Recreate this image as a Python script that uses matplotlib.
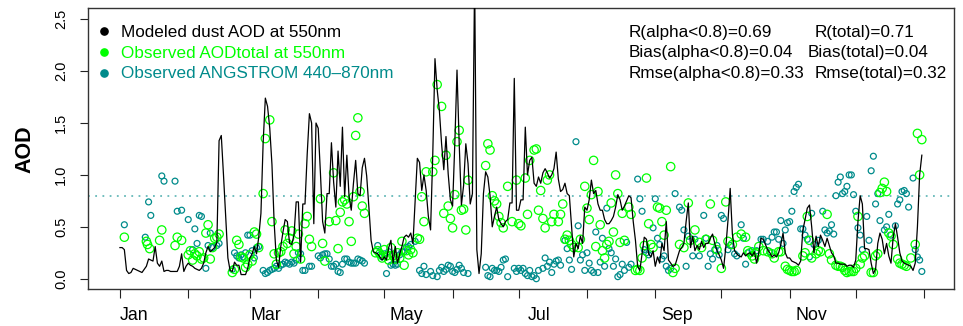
import numpy as np
import matplotlib
matplotlib.use("Agg")
import matplotlib.pyplot as plt

plt.rcParams['font.family'] = ['Liberation Sans', 'DejaVu Sans']

# ---------------- data ----------------
# Modeled dust AOD (daily), by month
jan = [0.30, 0.30, 0.28, 0.08, 0.05, 0.06, 0.10, 0.09, 0.08, 0.07, 0.06, 0.09, 0.12, 0.19, 0.18, 0.17,
       0.31, 0.15, 0.12, 0.17, 0.07, 0.08, 0.08, 0.07, 0.07, 0.07, 0.07, 0.12, 0.24, 0.07, 0.12]
feb = [0.15, 0.13, 0.12, 0.10, 0.09, 0.08, 0.10, 0.15, 0.25, 0.31, 0.26, 0.28, 0.30, 0.35, 1.33, 1.38,
       1.00, 0.60, 0.20, 0.08, 0.07, 0.16, 0.13, 0.13, 0.04, 0.04, 0.04, 0.10]
mar = [0.20, 0.24, 0.31, 0.24, 0.40, 0.63, 1.31, 1.74, 1.66, 1.45, 1.10, 0.54, 0.18, 0.11, 0.31, 0.45,
       0.57, 0.55, 0.34, 0.33, 0.42, 0.74, 0.74, 0.16, 0.72, 0.72, 1.20, 1.59, 1.50, 0.53, 1.50]
apr = [1.45, 1.02, 0.55, 0.44, 0.82, 0.82, 1.31, 0.93, 0.69, 1.23, 0.89, 1.46, 0.79, 1.19, 0.79, 0.66,
       0.92, 1.14, 0.82, 0.80, 1.07, 1.16, 0.99, 0.69, 0.37, 0.26, 0.25, 0.24, 0.21, 0.18]
may = [0.21, 0.18, 0.30, 0.37, 0.15, 0.31, 0.15, 0.24, 0.31, 0.40, 0.42, 0.40, 0.44, 0.34, 0.75, 1.16,
       1.12, 0.85, 1.00, 0.85, 0.60, 0.47, 1.20, 2.12, 1.82, 1.62, 1.30, 1.05, 1.37, 1.01, 0.76]
jun = [0.70, 1.30, 2.01, 1.30, 0.71, 0.90, 1.30, 1.11, 0.72, 0.82, 2.90, 0.28, 0.05, 0.24, 0.82, 1.03,
       0.98, 0.80, 0.50, 0.60, 0.69, 0.57, 0.53, 0.50, 0.55, 0.57, 0.73, 0.73, 1.93, 0.66]
jul = [0.66, 0.76, 0.76, 1.46, 1.00, 1.14, 1.17, 0.92, 0.89, 0.98, 0.92, 1.02, 1.06, 1.02, 0.97, 1.00,
       1.06, 1.22, 0.96, 0.84, 0.86, 0.92, 0.82, 0.80, 0.50, 0.21, 0.34, 0.29, 0.41, 0.34, 0.69]
aug = [0.66, 0.76, 0.95, 0.82, 0.85, 0.72, 0.66, 0.66, 0.57, 0.53, 0.53, 0.56, 0.60, 0.69, 0.81, 0.76,
       0.66, 0.70, 0.75, 0.80, 0.78, 0.55, 0.37, 0.12, 0.08, 0.24, 0.40, 0.38, 0.24, 0.21, 0.27]
sep = [0.12, 0.21, 0.15, 0.34, 0.27, 0.55, 0.18, 0.15, 0.12, 0.13, 0.20, 0.27, 0.30, 0.34, 0.55, 0.73,
       0.30, 0.41, 0.27, 0.32, 0.28, 0.36, 0.30, 0.34, 0.34, 0.39, 0.43, 0.34, 0.27, 0.23]
oct_ = [0.18, 0.10, 0.30, 0.56, 0.87, 0.43, 0.27, 0.24, 0.22, 0.21, 0.25, 0.22, 0.24, 0.25, 0.22, 0.26,
        0.15, 0.25, 0.39, 0.38, 0.33, 0.28, 0.25, 0.21, 0.23, 0.21, 0.25, 0.33, 0.44, 0.25, 0.20]
nov = [0.20, 0.17, 0.16, 0.15, 0.13, 0.17, 0.47, 0.57, 0.68, 0.71, 0.50, 0.25, 0.41, 0.31, 0.42, 0.37,
       0.31, 0.39, 0.32, 0.25, 0.22, 0.15, 0.15, 0.14, 0.14, 0.14, 0.12, 0.13, 0.13, 0.11]
dec = [0.18, 0.55, 0.80, 0.72, 0.29, 0.29, 0.28, 0.15, 0.05, 0.09, 0.34, 0.44, 0.38, 0.24, 0.34, 0.22,
       0.15, 0.40, 0.53, 0.40, 0.25, 0.17, 0.15, 0.14, 0.13, 0.12, 0.08, 0.15, 0.50, 1.00, 1.19]
model_aod = jan + feb + mar + apr + may + jun + jul + aug + sep + oct_ + nov + dec
model_days = np.arange(len(model_aod))

# Observed AOD total at 550nm: (day of year, AOD)
green_points = [
    (2, 0.40), (12, 0.36), (12.5, 0.33), (13.5, 0.29), (18, 0.37), (19, 0.47), (25, 0.32), (26, 0.40),
    (28, 0.37), (31, 0.23), (32, 0.27), (33, 0.18), (34, 0.24), (35, 0.22), (36, 0.26), (37, 0.19),
    (38, 0.20), (39, 0.44), (40, 0.52), (41, 0.19), (42, 0.30), (43, 0.39), (44, 0.40), (45, 0.43),
    (51, 0.06), (52, 0.09), (53, 0.37), (54, 0.33), (55, 0.21), (56, 0.20), (57, 0.11), (58, 0.14),
    (59, 0.23), (60, 0.17), (61, 0.45), (62, 0.43), (63, 0.30), (65, 0.82), (66, 1.35), (68, 1.53),
    (69, 0.55), (70, 0.24), (71, 0.14), (72, 0.25), (73, 0.26), (74, 0.31), (75, 0.47), (76, 0.34),
    (77, 0.39), (78, 0.46), (79, 0.24), (80, 0.31), (81, 0.43), (82, 0.19), (84, 0.53), (85, 0.60),
    (86, 0.38), (87, 0.31), (91, 0.77), (92, 0.34), (93, 0.17), (95, 0.55), (97, 1.02), (98, 0.56),
    (99, 0.29), (100, 0.64), (101, 0.74), (102, 0.76), (103, 0.72), (104, 0.55), (105, 0.36), (106, 0.79),
    (107, 1.38), (108, 1.55), (109, 0.84), (110, 0.70), (111, 0.63),
    (116, 0.25), (117, 0.27), (118, 0.24), (119, 0.20), (120, 0.28), (121, 0.22), (122, 0.18), (123, 0.30),
    (124, 0.22), (125, 0.19), (126, 0.25), (127, 0.20), (128, 0.36), (129, 0.13), (130, 0.27), (131, 0.23),
    (132, 0.28), (133, 0.25), (135, 0.39), (136, 0.38), (137, 0.79), (138, 0.55), (139, 1.03), (142, 1.03),
    (143, 1.14), (144, 1.87), (146, 1.66), (147, 0.63), (148, 1.19), (149, 0.70), (150, 0.58), (151, 0.49),
    (152, 0.81), (153, 1.32), (154, 1.43), (155, 0.66), (156, 0.67), (157, 0.47), (158, 0.95),
    (166, 1.09), (167, 1.30), (168, 1.24), (169, 0.80), (170, 0.75), (171, 0.72), (172, 0.60), (173, 0.54),
    (174, 0.49), (176, 0.89), (178, 0.55), (180, 0.95), (181, 0.53), (182, 0.51), (184, 0.97), (185, 0.62),
    (186, 1.14), (188, 1.24), (189, 1.25), (190, 0.66), (191, 0.85), (192, 0.58), (193, 0.49), (194, 0.95),
    (195, 1.00), (196, 0.55), (197, 0.62), (199, 0.55), (200, 0.62), (201, 0.72), (202, 0.38), (203, 0.42),
    (204, 0.37), (205, 0.33), (206, 0.30), (208, 0.30), (209, 0.38), (211, 0.89), (212, 0.68), (213, 0.57),
    (214, 0.81), (215, 1.14), (216, 0.31), (217, 0.84), (218, 0.52), (219, 0.27), (220, 0.20), (221, 0.33),
    (222, 0.36), (223, 0.73), (224, 0.45), (225, 1.00), (226, 0.82), (227, 0.35), (228, 0.63), (229, 0.37),
    (231, 0.69), (232, 0.62), (234, 0.08), (235, 0.09), (236, 0.08), (237, 0.20), (238, 0.32), (239, 0.97),
    (240, 0.53), (241, 0.33), (242, 0.30), (244, 0.69), (245, 0.68), (246, 0.55), (247, 0.42), (248, 0.66),
    (250, 1.08), (251, 0.06), (252, 0.10), (254, 0.33), (256, 0.30), (258, 0.73), (259, 0.37), (261, 0.47),
    (263, 0.35), (264, 0.30), (266, 0.38), (268, 0.72), (269, 0.37), (271, 0.28), (273, 0.10), (275, 0.74),
    (276, 0.36), (278, 0.33), (280, 0.40), (282, 0.43), (284, 0.40), (285, 0.27), (286, 0.25), (287, 0.22),
    (288, 0.19), (289, 0.25), (290, 0.31), (292, 0.27), (294, 0.26), (296, 0.24), (297, 0.20), (299, 0.26),
    (300, 0.26), (302, 0.12), (303, 0.09), (304, 0.08), (305, 0.07), (306, 0.07), (307, 0.08), (310, 0.22),
    (311, 0.25), (312, 0.60), (313, 0.37), (314, 0.20), (316, 0.24), (317, 0.27), (318, 0.26), (321, 0.62),
    (322, 0.24), (323, 0.18), (325, 0.13), (326, 0.12), (327, 0.12), (328, 0.11), (329, 0.08), (330, 0.06),
    (331, 0.07), (332, 0.07), (333, 0.07), (334, 0.10), (335, 0.60), (336, 0.14), (337, 0.20), (338, 0.22),
    (341, 0.06), (342, 0.06), (343, 0.22), (344, 0.24), (345, 0.83), (346, 0.87), (347, 0.93), (348, 0.84),
    (349, 0.44), (350, 0.41), (351, 0.33), (353, 0.19), (354, 0.15), (355, 0.14), (356, 0.13), (357, 0.12),
    (359, 0.20), (361, 0.33), (362, 1.40), (363, 1.00), (364, 1.34),
]

# Observed ANGSTROM 440-870nm (points plotted on the AOD scale): (day of year, value)
teal_points = [
    (2, 0.52), (11.5, 0.40), (13, 0.74), (14, 0.61), (19, 0.99), (20, 0.94), (25, 0.94), (26, 0.65),
    (28, 0.66), (31, 0.57), (33, 0.28), (34, 0.48), (35, 0.34), (36, 0.61), (37, 0.60), (39, 0.10),
    (40, 0.32), (41, 0.44), (42, 0.30), (44, 0.32), (45, 0.34),
    (51, 0.09), (52, 0.25), (53, 0.22), (54, 0.20), (55, 0.23), (56, 0.21), (57, 0.25), (58, 0.42),
    (59, 0.42), (60, 0.27), (61, 0.20), (62, 0.30), (63, 0.31), (65, 0.08), (66, 0.05), (67, 0.06),
    (68, 0.08), (69, 0.09), (70, 0.10), (71, 0.12), (72, 0.10), (73, 0.13), (74, 0.14), (75, 0.16),
    (76, 0.15), (77, 0.14), (78, 0.16), (79, 0.15), (80, 0.18), (81, 0.25), (82, 0.24), (83, 0.08),
    (84, 0.08), (86, 0.12), (87, 0.12), (90, 0.22), (91, 0.20),
    (92, 0.23), (93, 0.24), (94, 0.24), (95, 0.19), (96, 0.12), (97, 0.12), (98, 0.14), (99, 0.07),
    (100, 0.06), (101, 0.14), (102, 0.19), (103, 0.19), (104, 0.16), (105, 0.15), (106, 0.15), (107, 0.15),
    (108, 0.19), (109, 0.18), (110, 0.17), (111, 0.15),
    (117, 0.32), (118, 0.23), (119, 0.21), (120, 0.24), (121, 0.05), (122, 0.26), (123, 0.13), (124, 0.14),
    (125, 0.13), (126, 0.14), (127, 0.23), (128, 0.26), (129, 0.26), (130, 0.30), (131, 0.31), (132, 0.33),
    (134, 0.36), (136, 0.08), (137, 0.05), (138, 0.12), (139, 0.04), (141, 0.07), (142, 0.03), (144, 0.02),
    (145, 0.08), (146, 0.11), (147, 0.07), (148, 0.09), (149, 0.13), (150, 0.12), (151, 0.07), (152, 0.06),
    (153, 0.09), (154, 0.13), (155, 0.10), (156, 0.06), (158, 0.05),
    (166, 0.11), (167, 0.03), (168, 0.02), (169, 0.10), (170, 0.08), (171, 0.08), (172, 0.07), (173, 0.11),
    (174, 0.18), (175, 0.19), (176, 0.02), (179, 0.10), (180, 0.07), (181, 0.10), (182, 0.08), (183, 0.10),
    (184, 0.05), (185, 0.03), (186, 0.08), (187, 0.02), (188, 0.03), (189, 0.00), (190, 0.08), (192, 0.10),
    (193, 0.20), (194, 0.12), (195, 0.16), (196, 0.06), (197, 0.14), (198, 0.17), (199, 0.18), (200, 0.13),
    (202, 0.37), (203, 0.29), (204, 0.18), (205, 0.09), (207, 1.32), (208, 0.51), (209, 0.18), (210, 0.23),
    (211, 0.08), (212, 0.25), (213, 0.15), (214, 0.08), (215, 0.06), (216, 0.45), (217, 0.06), (218, 0.16),
    (219, 0.39), (220, 0.12), (221, 0.68), (222, 0.29), (223, 0.25), (224, 0.12), (225, 0.19), (226, 0.02),
    (227, 0.04), (228, 0.14), (229, 0.08), (230, 0.35), (231, 0.11), (232, 0.14), (235, 0.96), (236, 0.77),
    (237, 0.65), (238, 0.28), (239, 0.25), (240, 0.23), (242, 0.49), (243, 0.77), (244, 0.39), (245, 0.33),
    (246, 0.19), (247, 0.22), (248, 0.12), (249, 0.08), (250, 0.10), (252, 0.82), (254, 0.69), (255, 0.66),
    (256, 0.47), (257, 0.12), (258, 0.41), (260, 0.22), (261, 0.38), (263, 0.22), (265, 0.61), (266, 0.39),
    (267, 0.12), (268, 0.24), (269, 0.19), (270, 0.28), (271, 0.32), (272, 0.23), (273, 0.61), (274, 0.58),
    (276, 0.28), (277, 0.32), (279, 0.24), (280, 0.22), (282, 0.52), (283, 0.39),
    (284, 0.14), (285, 0.25), (287, 0.27), (289, 0.27), (291, 0.38), (292, 0.38), (294, 0.36), (295, 0.26),
    (296, 0.40), (297, 0.45), (298, 0.45), (299, 0.38), (300, 0.56), (301, 0.34), (302, 0.47), (303, 0.54),
    (304, 0.55), (305, 0.65), (306, 0.84), (307, 0.88), (308, 0.91), (309, 0.48), (310, 0.48), (311, 0.42),
    (312, 0.38), (313, 0.21), (314, 0.63), (315, 0.33), (317, 0.37), (319, 0.65), (320, 0.47), (321, 0.44),
    (322, 0.46), (323, 0.52), (324, 0.43), (325, 0.80), (326, 0.93), (327, 0.98), (328, 0.82), (329, 0.84),
    (330, 0.89), (331, 1.00), (332, 1.00), (333, 0.81), (334, 0.65), (335, 0.49), (336, 0.42), (337, 0.28),
    (339, 0.60), (340, 0.37), (341, 1.04), (342, 1.18), (343, 0.72), (344, 0.82), (345, 0.56), (347, 0.47),
    (348, 0.50), (349, 0.62), (350, 0.42), (352, 0.51), (353, 0.72), (354, 0.76), (355, 0.84), (356, 0.85),
    (357, 0.82), (358, 0.69), (360, 0.97), (361, 0.28), (362, 0.21), (363, 0.18), (364, 0.07),
]
green_days, green_aod = map(list, zip(*green_points))
teal_days, teal_vals = map(list, zip(*teal_points))

threshold = 0.8
month_start_days = [0, 31, 59, 90, 120, 151, 181, 212, 243, 273, 304, 334, 365]
month_label_days = [6.6, 66.1, 129.8, 190.1, 252.8, 313.8]
month_labels = ['Jan', 'Mar', 'May', 'Jul', 'Sep', 'Nov']
ytick_vals = [0.0, 0.5, 1.0, 1.5, 2.0, 2.5]

legend_labels = ['Modeled dust AOD at 550nm', 'Observed AODtotal at 550nm', 'Observed ANGSTROM 440\u2013870nm']
stats_left = ['R(alpha<0.8)=0.69', 'Bias(alpha<0.8)=0.04', 'Rmse(alpha<0.8)=0.33']
stats_right = ['R(total)=0.71', 'Bias(total)=0.04', 'Rmse(total)=0.32']

# ---------------- figure ----------------
W, H = 963, 326
fig = plt.figure(figsize=(W / 100, H / 100), dpi=100)
L, R, T, B = 88, 954, 8, 289
ax = fig.add_axes([L / W, 1 - B / H, (R - L) / W, (B - T) / H])

GREEN = '#00ff00'
TEAL = '#008b8b'

ax.axhline(threshold, color=TEAL, alpha=0.6, lw=1.3, linestyle=(0, (1, 3)), zorder=1)
ax.plot(model_days, model_aod, color='black', lw=0.9, zorder=3)
ax.scatter(teal_days, teal_vals, s=18, facecolors='none', edgecolors=TEAL, linewidths=0.9, zorder=2)
ax.scatter(green_days, green_aod, s=36, facecolors='none', edgecolors=GREEN, linewidths=0.9, zorder=2)

ax.set_xlim(-14.5, 378.6)
ax.set_ylim(-0.099, 2.608)

ax.set_xticks(month_start_days)
ax.set_xticklabels([])
ax.set_xticks(month_label_days, minor=True)
ax.set_xticklabels(month_labels, minor=True, fontsize=12.8)
ax.tick_params(axis='x', which='major', direction='out', length=6.5, width=0.8, color='#222222')
ax.tick_params(axis='x', which='minor', length=0, pad=13.0)

ax.set_yticks(ytick_vals)
ax.set_yticklabels(['%.1f' % v for v in ytick_vals], rotation=90, va='center', fontsize=10.5)
ax.tick_params(axis='y', direction='out', length=5.8, width=0.8, pad=8.6, color='#222222')

for s in ax.spines.values():
    s.set_color('#333333')
    s.set_linewidth(1.0)

fig.text(25 / W, 1 - 149 / H, 'AOD', rotation=90, ha='center', va='center',
         fontsize=15.5, fontweight='bold')

# legend (hand placed like R's borderless legend)
leg_colors = ['black', GREEN, TEAL]
baselines = [36.7, 57.5, 78.3]
for lab, col, yb in zip(legend_labels, leg_colors, baselines):
    fig.text(120.7 / W, 1 - yb / H, lab, color=col, fontsize=12.3, ha='left', va='baseline')
    fig.lines.append(plt.Line2D([104 / W], [1 - (yb - 5.7) / H], marker='o', markersize=5.2,
                                color=col, linestyle='none', transform=fig.transFigure))

right_x = [815, 807.7, 814.3]
for sl, sr, yb, xr in zip(stats_left, stats_right, baselines, right_x):
    fig.text(628.3 / W, 1 - yb / H, sl, fontsize=12.3, ha='left', va='baseline')
    fig.text(xr / W, 1 - yb / H, sr, fontsize=12.3, ha='left', va='baseline')

fig.savefig('out.png', dpi=100)
